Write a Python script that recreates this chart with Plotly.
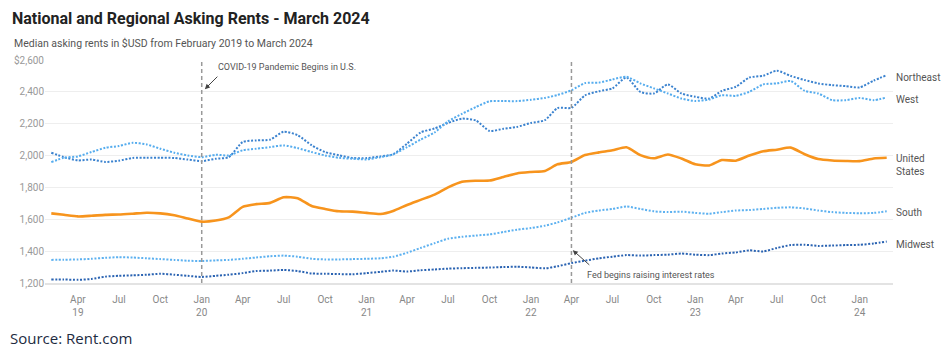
import pandas as pd
import plotly.graph_objects as go

months = pd.date_range("2019-02-01", "2024-03-01", freq="MS")

us = [1637, 1628, 1618, 1622, 1628, 1630, 1635, 1641, 1637, 1625, 1605,
      1585, 1592, 1612, 1678, 1695, 1703, 1738, 1732, 1683, 1665, 1650, 1648,
      1640, 1633, 1652, 1690, 1722, 1755, 1800, 1835, 1842, 1843, 1866, 1888,
      1897, 1903, 1945, 1960, 2003, 2020, 2033, 2052, 2003, 1983, 2007, 1982,
      1945, 1938, 1972, 1968, 2000, 2027, 2037, 2050, 2008, 1978, 1969, 1966,
      1965, 1982, 1986]
northeast = [2018, 1990, 1970, 1975, 1960, 1968, 1985, 1986, 1986, 1985, 1975,
             1965, 1980, 1990, 2085, 2095, 2100, 2150, 2128, 2065, 2022, 2002, 1985,
             1984, 1995, 2008, 2075, 2145, 2170, 2205, 2232, 2220, 2155, 2168, 2180,
             2205, 2222, 2298, 2300, 2378, 2404, 2422, 2490, 2400, 2390, 2447, 2390,
             2369, 2358, 2406, 2432, 2490, 2501, 2533, 2500, 2474, 2453, 2442, 2436,
             2428, 2470, 2505]
west = [1959, 1986, 1995, 2022, 2049, 2060, 2080, 2070, 2043, 2018, 2001,
        1990, 2005, 2001, 2033, 2043, 2053, 2064, 2047, 2022, 2001, 1986, 1980,
        1976, 1990, 2007, 2053, 2100, 2145, 2215, 2262, 2305, 2341, 2342, 2342,
        2350, 2362, 2380, 2410, 2455, 2458, 2478, 2495, 2453, 2422, 2390, 2358,
        2343, 2352, 2379, 2375, 2400, 2447, 2453, 2468, 2406, 2390, 2348, 2348,
        2362, 2348, 2365]
midwest = [1222, 1222, 1220, 1225, 1240, 1245, 1248, 1252, 1258, 1252, 1245,
           1238, 1245, 1252, 1262, 1275, 1278, 1282, 1275, 1260, 1258, 1256, 1255,
           1262, 1270, 1278, 1272, 1280, 1285, 1290, 1293, 1295, 1297, 1300, 1302,
           1298, 1292, 1305, 1325, 1340, 1355, 1365, 1375, 1372, 1375, 1378, 1385,
           1378, 1375, 1385, 1392, 1405, 1398, 1420, 1438, 1440, 1433, 1435, 1438,
           1440, 1448, 1460]
south = [1345, 1346, 1348, 1352, 1358, 1362, 1360, 1355, 1350, 1345, 1340,
         1338, 1342, 1345, 1352, 1360, 1368, 1372, 1365, 1352, 1348, 1348, 1350,
         1352, 1355, 1365, 1390, 1420, 1450, 1478, 1490, 1498, 1505, 1520, 1535,
         1545, 1560, 1580, 1610, 1640, 1655, 1665, 1680, 1665, 1650, 1645, 1648,
         1640, 1635, 1645, 1655, 1658, 1665, 1672, 1675, 1668, 1655, 1645, 1640,
         1638, 1640, 1650]

y_tickvals = [1200, 1400, 1600, 1800, 2000, 2200, 2400, 2600]
y_ticktext = ["1,200", "1,400", "1,600", "1,800", "2,000", "2,200", "2,400", "$2,600"]

x_tickvals = ["2019-04-01", "2019-07-01", "2019-10-01",
              "2020-01-01", "2020-04-01", "2020-07-01", "2020-10-01",
              "2021-01-01", "2021-04-01", "2021-07-01", "2021-10-01",
              "2022-01-01", "2022-04-01", "2022-07-01", "2022-10-01",
              "2023-01-01", "2023-04-01", "2023-07-01", "2023-10-01",
              "2024-01-01"]
x_ticktext = ["Apr<br>19", "Jul", "Oct",
              "Jan<br>20", "Apr", "Jul", "Oct",
              "Jan<br>21", "Apr", "Jul", "Oct",
              "Jan<br>22", "Apr", "Jul", "Oct",
              "Jan<br>23", "Apr", "Jul", "Oct",
              "Jan<br>24"]

events = ["2020-01-01", "2022-04-01"]

series = [
    ("Northeast", northeast, "#3a82cf", "2px,1.6px", 2, -2),
    ("West", west, "#55acee", "2px,1.6px", 2, -2),
    ("South", south, "#5db1f0", "2px,1.6px", 2, -1),
    ("Midwest", midwest, "#2a63b2", "2px,1.6px", 2, -3),
    ("United<br>States", us, "#f7941d", "solid", 2.6, -7),
]

fig = go.Figure()
for name, vals, color, dash, w, _ in series:
    assert len(vals) == len(months), name
    fig.add_trace(go.Scatter(
        x=months, y=vals, mode="lines", name=name.replace("<br>", " "),
        line=dict(color=color, width=w, dash=dash, shape="spline", smoothing=0.6),
        hoverinfo="skip", showlegend=False))

shapes = []
for d in events:
    shapes.append(dict(type="line", xref="x", yref="paper", x0=d, x1=d, y0=0, y1=1,
                       line=dict(color="#999999", width=1.5, dash="4px,3px"), layer="above"))

annotations = []
for name, vals, color, dash, w, ys in series:
    annotations.append(dict(xref="paper", yref="y", x=1.0, y=vals[-1], xanchor="left",
                            yanchor="middle", xshift=1, yshift=ys, text=name, showarrow=False,
                            align="left", font=dict(size=10, color="#555555")))

# event notes
annotations += [
    dict(xref="x", yref="y", x="2020-02-02", y=2556, text="COVID-19 Pandemic Begins in U.S.",
         showarrow=False, xanchor="left", yanchor="middle", font=dict(size=9, color="#555555")),
    dict(xref="x", yref="y", x="2020-01-08", y=2417, text="", showarrow=True, ax=14, ay=-14,
         arrowhead=2, arrowsize=1, arrowwidth=1, arrowcolor="#444444"),
    dict(xref="x", yref="y", x="2022-05-01", y=1250, text="Fed begins raising interest rates",
         showarrow=False, xanchor="left", yanchor="middle", font=dict(size=9, color="#555555")),
    dict(xref="x", yref="y", x="2022-04-04", y=1406, text="", showarrow=True, ax=18, ay=16,
         arrowhead=2, arrowsize=1, arrowwidth=1, arrowcolor="#444444"),
    dict(xref="paper", yref="paper", x=-0.0389, y=1.076, xanchor="left", yanchor="middle",
         text="Median asking rents in $USD from February 2019 to March 2024", showarrow=False,
         font=dict(size=10.5, color="#555555")),
    dict(xref="paper", yref="paper", x=-0.0436, y=-0.2466, xanchor="left", yanchor="middle",
         text="Source: Rent.com", showarrow=False,
         font=dict(family="Open Sans", size=15, color="#1d2b3f")),
]

fig.update_layout(
    width=942, height=356,
    margin=dict(l=45, r=49, t=60, b=73),
    paper_bgcolor="white", plot_bgcolor="white",
    font=dict(family="Roboto", color="#555555"),
    title=dict(text="<b>National and Regional Asking Rents - March 2024</b>",
               xref="container", yref="container", x=12/942, y=1-18/356,
               xanchor="left", yanchor="middle", font=dict(size=16, color="#222222")),
    shapes=shapes, annotations=annotations,
    xaxis=dict(type="date", range=["2019-01-18", "2024-03-15"], tickvals=x_tickvals,
               ticktext=x_ticktext, showgrid=False, zeroline=False, showline=True,
               linecolor="#e3e3e3", linewidth=2, ticks="outside", ticklen=6,
               tickcolor="rgba(0,0,0,0)",
               tickfont=dict(size=10, color="#888888")),
    yaxis=dict(range=[1200, 2600], tickvals=y_tickvals, ticktext=y_ticktext,
               showgrid=True, gridcolor="#eeeeee", gridwidth=1, zeroline=False,
               ticks="", tickfont=dict(size=10, color="#999999"), showline=False,
               automargin=False),
)

fig.write_html("out.html", config={"displayModeBar": False, "staticPlot": True},
               post_script="document.body.style.margin='0';")
